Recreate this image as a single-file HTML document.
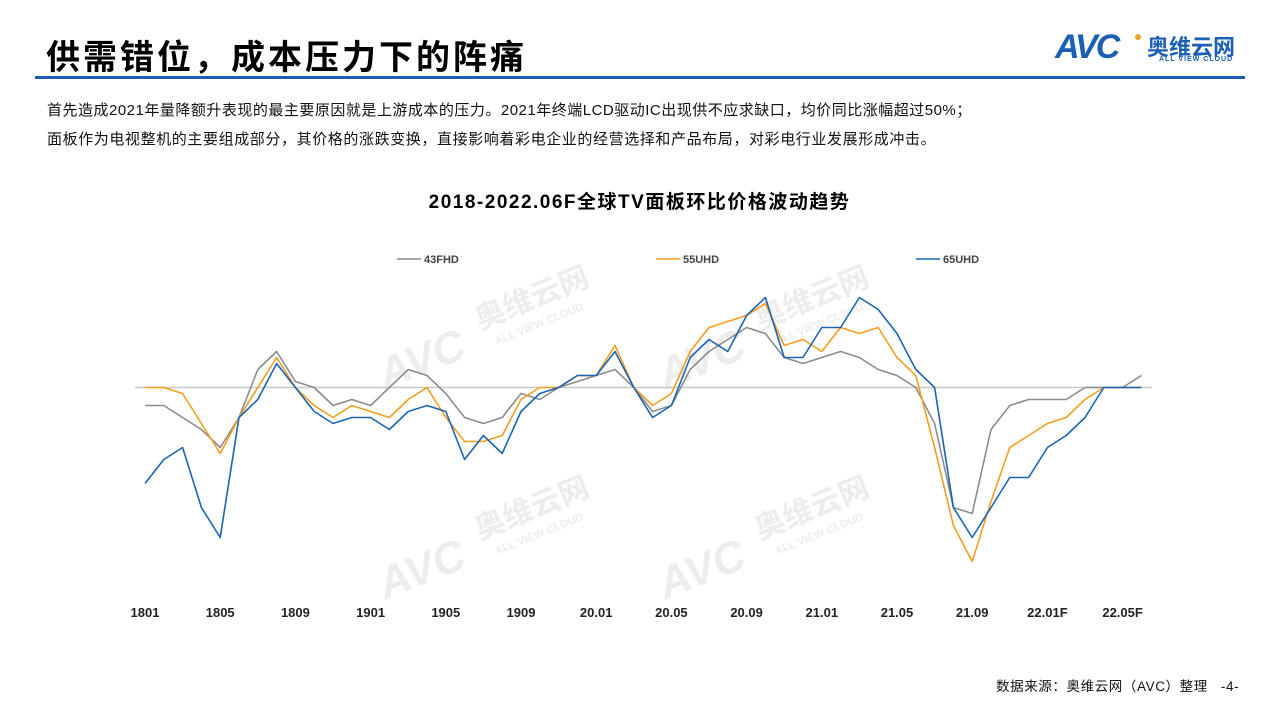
<!DOCTYPE html>
<html><head><meta charset="utf-8">
<style>
body{margin:0;width:1279px;height:719px;background:#fff;overflow:hidden;position:relative;font-family:"Liberation Sans","Noto Sans CJK SC",sans-serif;}
.t{position:absolute;white-space:nowrap;}
</style></head><body>
<div class="t" style="left:46px;top:30px;font-size:34px;font-weight:bold;color:#000;letter-spacing:3px;">供需错位，成本压力下的阵痛</div>
<div style="position:absolute;left:1055px;top:28px;width:195px;height:40px;">
 <div class="t" style="left:0;top:0;font-size:34px;font-weight:bold;font-style:italic;color:#1a5fb4;letter-spacing:-2px;">AVC</div>
 <div style="position:absolute;left:80px;top:6px;width:6px;height:6px;border-radius:50%;background:#f5a31f"></div>
 <div class="t" style="left:92px;top:2px;font-size:22px;font-weight:bold;color:#1a5fb4;">奥维云网</div>
 <div class="t" style="left:104px;top:28px;font-size:7px;font-weight:bold;color:#1a5fb4;letter-spacing:1px;">ALL VIEW CLOUD</div>
</div>
<div style="position:absolute;left:35px;top:76px;width:1210px;height:3px;background:#1a5fb4;"></div>
<div class="t" style="left:47px;top:99px;font-size:15px;letter-spacing:0.5px;color:#111;">首先造成2021年量降额升表现的最主要原因就是上游成本的压力。2021年终端LCD驱动IC出现供不应求缺口，均价同比涨幅超过50%；</div>
<div class="t" style="left:47px;top:128px;font-size:15px;letter-spacing:0.6px;color:#111;">面板作为电视整机的主要组成部分，其价格的涨跌变换，直接影响着彩电企业的经营选择和产品布局，对彩电行业发展形成冲击。</div>
<div class="t" style="left:0;width:1279px;text-align:center;top:187px;font-size:19px;letter-spacing:1.5px;font-weight:bold;color:#000;">2018-2022.06F全球TV面板环比价格波动趋势</div>
<svg id="chart" width="1279" height="719" style="position:absolute;left:0;top:0;" font-family="Liberation Sans, Noto Sans CJK SC, sans-serif"></svg>
<div class="t" style="left:996px;top:675px;font-size:13.5px;letter-spacing:0.6px;color:#111;">数据来源：奥维云网（AVC）整理&nbsp;&nbsp;&nbsp;-4-</div>
<script>
const categories=["1801","","","","1805","","","","1809","","","","1901","","","","1905","","","","1909","","","","20.01","","","","20.05","","","","20.09","","","","21.01","","","","21.05","","","","21.09","","","","22.01F","","","","22.05F",""];
const fhd43=[-1.5,-1.5,-2.5,-3.5,-5,-2.5,1.5,3,0.5,0,-1.5,-1,-1.5,0,1.5,1,-0.5,-2.5,-3,-2.5,-0.5,-1,0,0.5,1,1.5,0,-2,-1.5,1.5,3,4,5,4.5,2.5,2,2.5,3,2.5,1.5,1,0,-3,-10,-10.5,-3.5,-1.5,-1,-1,-1,0,0,0,1];
const uhd55=[0,0,-0.5,-3,-5.5,-2.5,0,2.5,0,-1.5,-2.5,-1.5,-2,-2.5,-1,0,-2.5,-4.5,-4.5,-4,-1,0,0,1,1,3.5,0,-1.5,-0.5,3,5,5.5,6,7,3.5,4,3,5,4.5,5,2.5,1,-5,-11.5,-14.5,-9.5,-5,-4,-3,-2.5,-1,0,0,0];
const uhd65=[-8,-6,-5,-10,-12.5,-2.5,-1,2,0,-2,-3,-2.5,-2.5,-3.5,-2,-1.5,-2,-6,-4,-5.5,-2,-0.5,0,1,1,3,0,-2.5,-1.5,2.5,4,3,6,7.5,2.5,2.5,5,5,7.5,6.5,4.5,1.5,0,-10,-12.5,-10,-7.5,-7.5,-5,-4,-2.5,0,0,0];
const seriesNames=["43FHD","55UHD","65UHD"];
const NS="http://www.w3.org/2000/svg";
const svg=document.getElementById('chart');
const x=i=>145+i*18.8;
const y=v=>387.5-v*12;
function mk(t,a){const e=document.createElementNS(NS,t);for(const k in a)e.setAttribute(k,a[k]);svg.appendChild(e);return e;}
[[480,330],[760,330],[480,540],[760,540]].forEach(p=>{
 const g=mk('g',{transform:`translate(${p[0]},${p[1]}) rotate(-22)`,fill:'#ededed','font-weight':'bold'});
 
 
 const t1=document.createElementNS(NS,'text');t1.setAttribute('x',-110);t1.setAttribute('y',20);t1.setAttribute('font-size',44);t1.setAttribute('font-style','italic');t1.textContent='AVC';g.appendChild(t1);
 const t2=document.createElementNS(NS,'text');t2.setAttribute('x',0);t2.setAttribute('y',0);t2.setAttribute('font-size',30);t2.textContent='奥维云网';g.appendChild(t2);
 const t3=document.createElementNS(NS,'text');t3.setAttribute('x',10);t3.setAttribute('y',20);t3.setAttribute('font-size',11);t3.textContent='ALL VIEW CLOUD';g.appendChild(t3);
});
const zl=mk('line',{x1:135,x2:1152,y1:y(0),y2:y(0),stroke:'#c8c8c8','stroke-width':1.5});


categories.forEach((c,i)=>{if(!c)return;
 const t=mk('text',{x:x(i),y:617,'text-anchor':'middle','font-size':13,'font-weight':'bold',fill:'#222'});
 
 
 t.textContent=c;});
const colors=['#8c8c8c','#f59d1f','#1a65b5'];
const legX=[397,656,916];
[fhd43,uhd55,uhd65].forEach((d,s)=>{
 const p=mk('polyline',{points:d.map((v,i)=>x(i)+','+y(v)).join(' '),fill:'none',stroke:colors[s],'stroke-width':1.6,'stroke-linejoin':'round'});
 
 
 const l=mk('line',{x1:legX[s],x2:legX[s]+24,y1:259,y2:259,stroke:colors[s],'stroke-width':1.6});
 
 
 const t=mk('text',{x:legX[s]+27,y:263,'font-size':11,'font-weight':'bold',fill:'#444'});
 
 
 t.textContent=seriesNames[s];
});
</script>
</body></html>
